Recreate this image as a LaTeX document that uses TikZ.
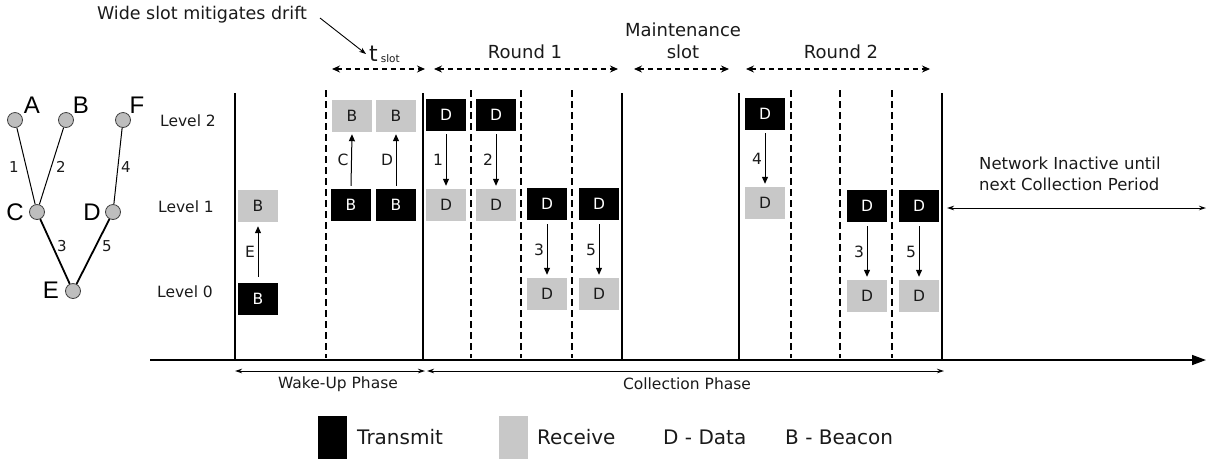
\documentclass[tikz,border=0pt]{standalone}
\usepackage{fontspec}
\setmainfont{DejaVu Sans}
\newfontfamily\treefont{Liberation Sans}
\usetikzlibrary{arrows.meta}
\definecolor{rxgray}{HTML}{C8C8C8}
\definecolor{nodegray}{HTML}{BEBEBE}
\definecolor{ink}{HTML}{1A1A1A}
\begin{document}
\begin{tikzpicture}[x=1pt,y=-1pt,
  slotbox/.style={minimum width=40pt,minimum height=32pt,inner sep=0pt,font=\fontsize{15.5}{17}\selectfont},
  txbox/.style={slotbox,fill=black,text=white},
  rxbox/.style={slotbox,fill=rxgray,text=ink},
  msg/.style={line width=1pt,-{Triangle[length=7pt,width=6pt]}},
  msglabel/.style={font=\fontsize{15.5}{17}\selectfont,text=ink,inner sep=2.5pt},
  solidsep/.style={line width=1.3pt},
  dashsep/.style={line width=1.3pt,dash pattern=on 7pt off 4pt},
  span/.style={line width=1.2pt,dash pattern=on 5pt off 4pt,{Stealth[length=8pt,width=7pt]}-{Stealth[length=8pt,width=7pt]}},
  phase/.style={line width=1pt,{Stealth[length=7pt,width=4.5pt]}-{Stealth[length=7pt,width=4.5pt]}},
  lbl/.style={text=ink,inner sep=0pt},
  tnode/.style={circle,draw=black!75,fill=nodegray,line width=0.8pt,minimum size=15pt,inner sep=0pt},
  tletter/.style={font=\treefont\fontsize{24}{26}\selectfont,inner sep=0pt},
  elabel/.style={font=\fontsize{15}{17}\selectfont,text=ink,inner sep=0pt},
  legbox/.style={minimum width=29pt,minimum height=43pt,inner sep=0pt}
]
\useasboundingbox (0,0) rectangle (1217,459);

% ---------------- tree ----------------
\node[tnode] (A) at (15,120) {};
\node[tnode] (B) at (66,120) {};
\node[tnode] (F) at (123,120) {};
\node[tnode] (C) at (37,212) {};
\node[tnode] (D) at (113,212) {};
\node[tnode] (E) at (73,291) {};
\draw[line width=1pt] (A) -- (C);
\draw[line width=1pt] (B) -- (C);
\draw[line width=1pt] (F) -- (D);
\draw[line width=1.8pt] (C) -- (E);
\draw[line width=1.8pt] (D) -- (E);
\node[tletter] (lA) at (32,105) {A};
\node[tletter] (lB) at (81,105) {B};
\node[tletter] (lF) at (137,105) {F};
\node[tletter] (lC) at (15,212) {C};
\node[tletter] (lD) at (92,212) {D};
\node[tletter] (lE) at (51,290) {E};
\node[elabel] (e1) at (14,167) {1};
\node[elabel] (e2) at (61,167) {2};
\node[elabel] (e4) at (126,167) {4};
\node[elabel] (e3) at (62,246) {3};
\node[elabel] (e5) at (107,246) {5};

% ---------------- level labels ----------------
\node[lbl,font=\fontsize{15.5}{18}\selectfont] (L2) at (188,121) {Level 2};
\node[lbl,font=\fontsize{15.5}{18}\selectfont] (L1) at (186,207) {Level 1};
\node[lbl,font=\fontsize{15.5}{18}\selectfont] (L0) at (185,292) {Level 0};

% ---------------- separators ----------------
\foreach \x [count=\i] in {235,423,622,739,942}{
  \coordinate (st\i) at (\x,93);
  \coordinate (sb\i) at (\x,360);
  \draw[solidsep] (st\i) -- (sb\i);
}
\foreach \x [count=\i] in {326,471,521,572,791,840,892}{
  \coordinate (dt\i) at (\x,90);
  \coordinate (db\i) at (\x,358);
  \draw[dashsep] (dt\i) -- (db\i);
}

% time axis
\coordinate (ax0) at (150,360);
\coordinate (ax1) at (1206,360);
\draw[line width=1.5pt,-{Triangle[length=14pt,width=10pt]}] (ax0) -- (ax1);

% ---------------- wake-up phase ----------------
\node[rxbox] (w1) at (258,206) {B};
\node[txbox] (w0) at (258,299) {B};
\draw[msg] ([yshift=6pt]w0.north) -- node[msglabel,left] (lw) {E} ([yshift=-4pt]w1.south);

\node[rxbox] (t2a) at (352,116) {B};
\node[rxbox] (t2b) at (396,116) {B};
\node[txbox] (t1a) at (351,205) {B};
\node[txbox] (t1b) at (396,205) {B};
\draw[msg] ([yshift=3pt]t1a.north) -- node[msglabel,left] (lc) {C} ([yshift=-2pt]t2a.south);
\draw[msg] ([yshift=3pt]t1b.north) -- node[msglabel,left] (ld) {D} ([yshift=-2pt]t2b.south);

% ---------------- round 1 ----------------
\node[txbox] (r1a2) at (446,115) {D};
\node[txbox] (r1b2) at (496,115) {D};
\node[rxbox] (r1a1) at (446,205) {D};
\node[rxbox] (r1b1) at (496,205) {D};
\node[txbox] (r1c1) at (547,204) {D};
\node[txbox] (r1d1) at (599,204) {D};
\node[rxbox] (r1c0) at (547,294) {D};
\node[rxbox] (r1d0) at (599,294) {D};
\draw[msg] ([yshift=-3pt]r1a2.south) -- node[msglabel,left] (l1) {1} ([yshift=3pt]r1a1.north);
\draw[msg] ([yshift=-3pt]r1b2.south) -- node[msglabel,left] (l2) {2} ([yshift=3pt]r1b1.north);
\draw[msg] ([yshift=-4pt]r1c1.south) -- node[msglabel,left] (l3) {3} ([yshift=3pt]r1c0.north);
\draw[msg] ([yshift=-4pt]r1d1.south) -- node[msglabel,left] (l5) {5} ([yshift=3pt]r1d0.north);

% ---------------- round 2 ----------------
\node[txbox] (r2a2) at (765,114) {D};
\node[rxbox] (r2a1) at (765,203) {D};
\node[txbox] (r2c1) at (867,206) {D};
\node[txbox] (r2d1) at (919,206) {D};
\node[rxbox] (r2c0) at (867,296) {D};
\node[rxbox] (r2d0) at (919,296) {D};
\draw[msg] ([yshift=-3pt]r2a2.south) -- node[msglabel,left] (l4b) {4} ([yshift=3pt]r2a1.north);
\draw[msg] ([yshift=-4pt]r2c1.south) -- node[msglabel,left] (l3b) {3} ([yshift=3pt]r2c0.north);
\draw[msg] ([yshift=-4pt]r2d1.south) -- node[msglabel,left] (l5b) {5} ([yshift=3pt]r2d0.north);

% ---------------- top spans ----------------
\coordinate (ts0) at (332,69);  \coordinate (ts1) at (425,69);
\coordinate (ra0) at (434,69);  \coordinate (ra1) at (618,69);
\coordinate (ma0) at (634,69);  \coordinate (ma1) at (729,69);
\coordinate (rb0) at (746,69);  \coordinate (rb1) at (930,69);
\draw[span] (ts0) -- (ts1);
\draw[span] (ra0) -- (ra1);
\draw[span] (ma0) -- (ma1);
\draw[span] (rb0) -- (rb1);
\node[lbl,font=\fontsize{18}{20}\selectfont] (round1) at (525,52) {Round 1};
\node[lbl,font=\fontsize{18}{22}\selectfont,align=center] (maint) at (683,41) {Maintenance\\slot};
\node[lbl,font=\fontsize{18}{20}\selectfont] (round2) at (841,52) {Round 2};
\node[lbl,font=\fontsize{22}{24}\selectfont,anchor=base west] (tslot) at (369,61) {t\kern3pt\raisebox{-1pt}{\fontsize{10.5}{12}\selectfont slot}};

\node[lbl,font=\fontsize{17.5}{20}\selectfont] (wide) at (202,15) {Wide slot mitigates drift};
\coordinate (wideA) at (320,18);
\coordinate (wideB) at (366,54);
\draw[line width=0.9pt,-{Stealth[length=7pt,width=5pt]}] (wideA) -- (wideB);

% ---------------- network inactive ----------------
\node[lbl,font=\fontsize{16.5}{21}\selectfont,align=left,anchor=west] (inact) at (979,174) {Network Inactive until\\next Collection Period};
\coordinate (in0) at (947,208);
\coordinate (in1) at (1206,208);
\draw[phase] (in0) -- (in1);

% ---------------- phases ----------------
\coordinate (wp0) at (235,371); \coordinate (wp1) at (425,371);
\coordinate (cp0) at (427,371); \coordinate (cp1) at (944,371);
\draw[phase] (wp0) -- (wp1);
\draw[phase] (cp0) -- (cp1);
\node[lbl,font=\fontsize{15.5}{18}\selectfont] (wake) at (338,384) {Wake-Up Phase};
\node[lbl,font=\fontsize{15.5}{18}\selectfont] (coll) at (687,384) {Collection Phase};

% ---------------- legend ----------------
\node[legbox,fill=black] (legT) at (332.5,437.5) {};
\node[legbox,fill=rxgray] (legR) at (513.5,437.5) {};
\node[lbl,font=\fontsize{20}{22}\selectfont,anchor=west] (tTx) at (357,437) {Transmit};
\node[lbl,font=\fontsize{20}{22}\selectfont,anchor=west] (tRx) at (537,437) {Receive};
\node[lbl,font=\fontsize{20}{22}\selectfont,anchor=west] (tD) at (663,437) {D - Data};
\node[lbl,font=\fontsize{20}{22}\selectfont,anchor=west] (tB) at (785,437) {B - Beacon};
\end{tikzpicture}
\end{document}
